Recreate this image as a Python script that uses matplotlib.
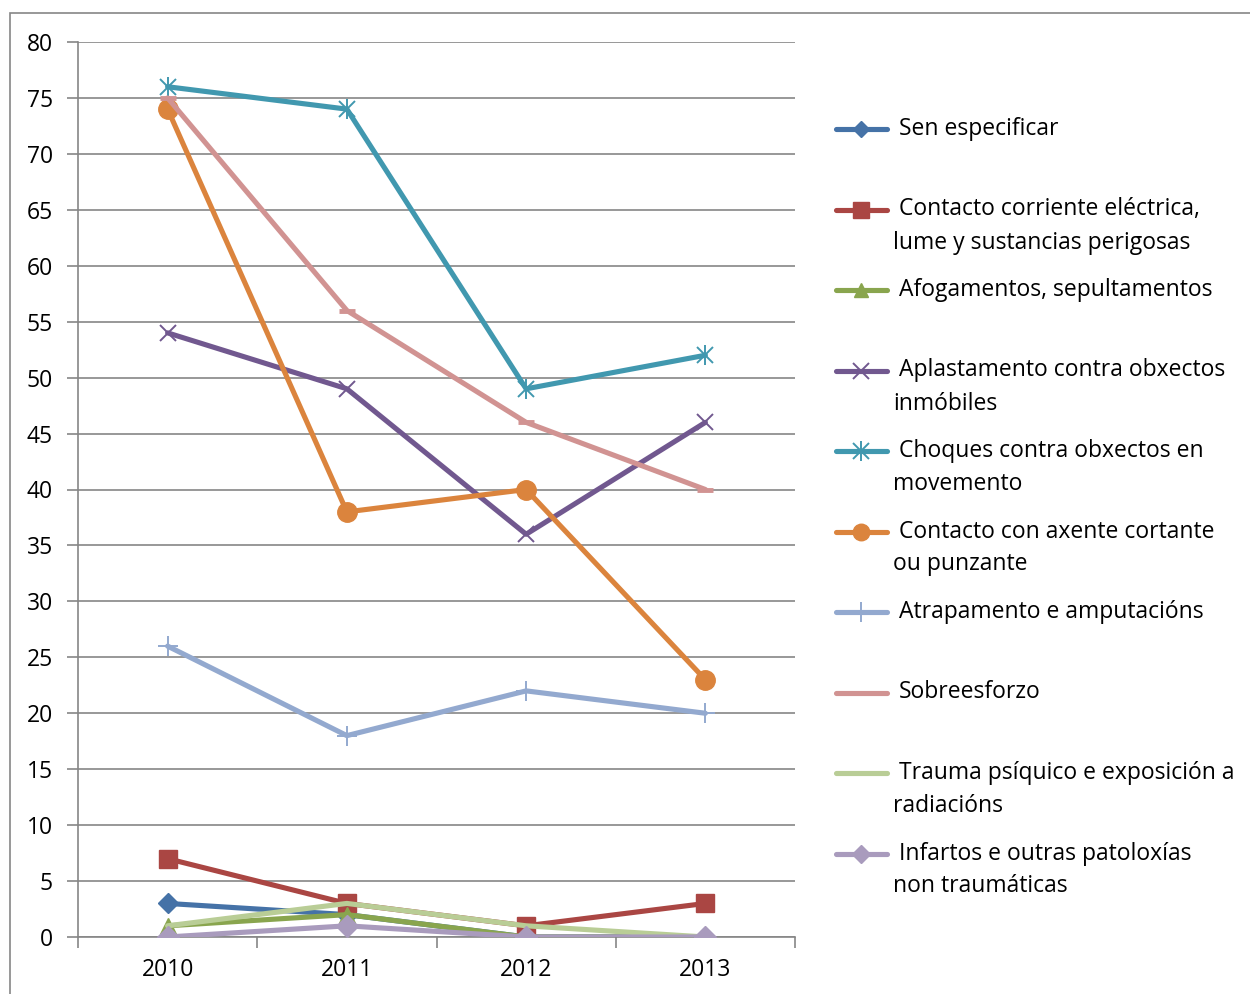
import matplotlib
matplotlib.use("Agg")
import matplotlib.pyplot as plt
from matplotlib.lines import Line2D
from matplotlib.patches import Rectangle

plt.rcParams['font.family'] = ['Open Sans', 'DejaVu Sans']

years = ["2010", "2011", "2012", "2013"]

sen_especificar = [3, 2, 0, 0]
contacto_corriente = [7, 3, 1, 3]
afogamentos = [1, 2, 0, 0]
aplastamento = [54, 49, 36, 46]
choques = [76, 74, 49, 52]
contacto_axente = [74, 38, 40, 23]
atrapamento = [26, 18, 22, 20]
sobreesforzo = [75, 56, 46, 40]
trauma = [1, 3, 1, 0]
infartos = [0, 1, 0, 0]

labels = [
    "Sen especificar",
    "Contacto corriente eléctrica,\nlume y sustancias perigosas",
    "Afogamentos, sepultamentos",
    "Aplastamento contra obxectos\ninmóbiles",
    "Choques contra obxectos en\nmovemento",
    "Contacto con axente cortante\nou punzante",
    "Atrapamento e amputacións",
    "Sobreesforzo",
    "Trauma psíquico e exposición a\nradiacións",
    "Infartos e outras patoloxías\nnon traumáticas",
]
series = [sen_especificar, contacto_corriente, afogamentos, aplastamento, choques,
          contacto_axente, atrapamento, sobreesforzo, trauma, infartos]
colors = ["#4572A7", "#AA4643", "#89A54E", "#71588F", "#4198AF",
          "#DB843D", "#93A9CF", "#D19392", "#B9CD96", "#A99BBD"]
# marker, size, edge width
markers = [("D", 10, 1), ("s", 13, 1), ("^", 12, 1), ("x", 12, 1.4), ("x", 12, 1.4),
           ("o", 14, 1), ("+", 14, 1.4), ("_", 11, 3.5), (None, 0, 0), ("D", 11, 1)]

FS = 16.5
LW = 3.7
W, H = 1250, 994
fig = plt.figure(figsize=(W / 100, H / 100), dpi=100)

# outer chart border
fig.add_artist(Rectangle((10 / W, -0.1), 1.2, 1 - 13 / H + 0.1, transform=fig.transFigure,
                         fill=False, edgecolor="#868686", lw=1.2))

ax = fig.add_axes([78 / W, 1 - 937 / H, (795 - 78) / W, (937 - 42) / H])
x = list(range(len(years)))

draw_order = [7, 4, 5, 3, 6, 0, 1, 2, 8, 9]
for i in draw_order:
    m, ms, mew = markers[i]
    c = colors[i]
    if m is None:
        ax.plot(x, series[i], color=c, lw=LW, solid_capstyle="round", zorder=3 + i * 0.1)
    elif m in ("x", "+", "_"):
        ax.plot(x, series[i], color=c, lw=LW, marker=m, ms=ms, mew=mew,
                solid_capstyle="round", zorder=3 + i * 0.1)
        if i == 4:
            ax.plot(x, series[i], color=c, lw=0, marker="|", ms=ms + 2, mew=mew,
                    zorder=3 + i * 0.1)
    else:
        ax.plot(x, series[i], color=c, lw=LW, marker=m, ms=ms, mec=c, mfc=c, mew=mew,
                solid_capstyle="round", zorder=3 + i * 0.1)

ax.set_xlim(-0.5, 3.5)
ax.set_ylim(0, 80)
ax.set_yticks(range(0, 81, 5))
ax.set_xticks([-0.5, 0.5, 1.5, 2.5, 3.5])
ax.set_xticklabels([])
ax.set_xticks(x, minor=True)
ax.set_xticklabels(years, minor=True)
ax.tick_params(axis="x", which="minor", length=0, pad=15, labelsize=FS)
ax.tick_params(axis="x", which="major", length=8, width=1.2, color="#868686", direction="out")
ax.tick_params(axis="y", length=8, width=1.2, color="#868686", labelsize=FS, pad=10)
ax.grid(axis="y", color="#868686", lw=1.2, zorder=0)
ax.set_axisbelow(True)
for s in ["top", "right"]:
    ax.spines[s].set_visible(False)
for s in ["left", "bottom"]:
    ax.spines[s].set_color("#868686")
    ax.spines[s].set_linewidth(1.2)

# legend (manual layout)
y0 = 129
dy = 80.5
for i in range(len(labels)):
    yp = 1 - (y0 + dy * i) / H
    m, ms, mew = markers[i]
    c = colors[i]
    fig.add_artist(Line2D([836 / W, 887 / W], [yp, yp], transform=fig.transFigure,
                          color=c, lw=LW, solid_capstyle="round"))
    if m is not None:
        if m in ("x", "+", "_"):
            fig.add_artist(Line2D([861 / W], [yp], transform=fig.transFigure, color=c,
                                  lw=0, marker=m, ms=ms, mew=mew))
            if i == 4:
                fig.add_artist(Line2D([861 / W], [yp], transform=fig.transFigure, color=c,
                                      lw=0, marker="|", ms=ms + 2, mew=mew))
        else:
            fig.add_artist(Line2D([861 / W], [yp], transform=fig.transFigure, color=c,
                                  lw=0, marker=m, ms=ms * 0.85, mfc=c, mec=c))
    lines = labels[i].split("\n")
    fig.text(899 / W, yp, lines[0], fontsize=FS, va="center", ha="left")
    if len(lines) > 1:
        fig.text(893 / W, yp - 33 / H, lines[1], fontsize=FS, va="center", ha="left")

fig.savefig("out.png", dpi=100)
